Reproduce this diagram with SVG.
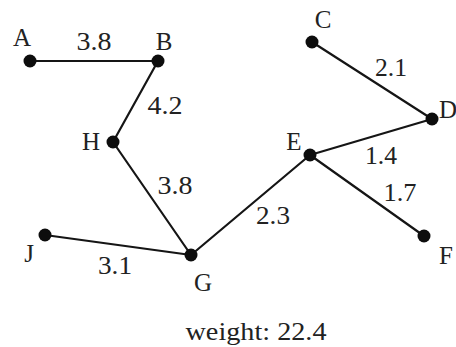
<svg xmlns="http://www.w3.org/2000/svg" width="456" height="347" viewBox="0 0 456 347">
<style>
.e{stroke:#151515;stroke-width:2.2;fill:none;stroke-linecap:round}
.n{fill:#0d0d0d}
.t{font-size:25px;fill:#222;text-anchor:middle}
</style>
<rect width="456" height="347" fill="#fff"/>
<g font-family="Liberation Serif, serif">
<g id="connectors">
<line class="e" x1="30" y1="61" x2="158" y2="61"/>
<line class="e" x1="158" y1="61" x2="113" y2="142"/>
<line class="e" x1="113" y1="142" x2="191" y2="255"/>
<line class="e" x1="45" y1="235" x2="191" y2="255"/>
<line class="e" x1="191" y1="255" x2="310" y2="155"/>
<line class="e" x1="310" y1="155" x2="432" y2="119"/>
<line class="e" x1="310" y1="155" x2="424" y2="236"/>
<line class="e" x1="312" y1="42" x2="432" y2="119"/>
<text class="t" x="94" y="50" textLength="35" lengthAdjust="spacingAndGlyphs">3.8</text>
<text class="t" x="165" y="114" textLength="35" lengthAdjust="spacingAndGlyphs">4.2</text>
<text class="t" x="175" y="194" textLength="35" lengthAdjust="spacingAndGlyphs">3.8</text>
<text class="t" x="115" y="274" textLength="34" lengthAdjust="spacingAndGlyphs">3.1</text>
<text class="t" x="273" y="224" textLength="34" lengthAdjust="spacingAndGlyphs">2.3</text>
<text class="t" x="381" y="164" textLength="32" lengthAdjust="spacingAndGlyphs">1.4</text>
<text class="t" x="400" y="201" textLength="33" lengthAdjust="spacingAndGlyphs">1.7</text>
<text class="t" x="391" y="76" textLength="32" lengthAdjust="spacingAndGlyphs">2.1</text>
</g>
<g id="A"><circle class="n" cx="30" cy="61" r="6.5"/><text class="t" x="22" y="46">A</text></g>
<g id="B"><circle class="n" cx="158" cy="61" r="6.5"/><text class="t" x="164" y="50">B</text></g>
<g id="H"><circle class="n" cx="113" cy="142" r="6.5"/><text class="t" x="91" y="150">H</text></g>
<g id="C"><circle class="n" cx="312" cy="42" r="6.5"/><text class="t" x="323" y="28">C</text></g>
<g id="D"><circle class="n" cx="432" cy="119" r="6.5"/><text class="t" x="439" y="118" text-anchor="start" style="text-anchor:start">D</text></g>
<g id="E"><circle class="n" cx="310" cy="155" r="6.5"/><text class="t" x="294" y="150">E</text></g>
<g id="J"><circle class="n" cx="45" cy="235" r="6.5"/><text class="t" x="29" y="262">J</text></g>
<g id="G"><circle class="n" cx="191" cy="255" r="6.5"/><text class="t" x="203" y="291">G</text></g>
<g id="F"><circle class="n" cx="424" cy="236" r="6.5"/><text class="t" x="446" y="264">F</text></g>
<text class="t" x="256" y="340" textLength="141" lengthAdjust="spacingAndGlyphs">weight: 22.4</text>
</g>
</svg>
